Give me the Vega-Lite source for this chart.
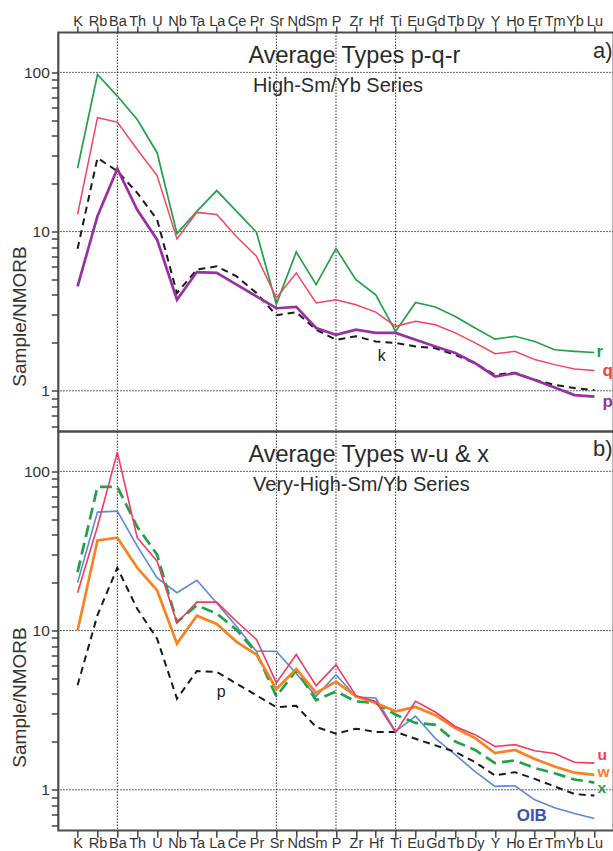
{
  "$schema": "https://vega.github.io/schema/vega-lite/v6.json",
  "background": "white",
  "padding": {"left": 8.3, "top": 12.5, "right": 0, "bottom": 0},
  "bounds": "flush",
  "spacing": 0,
  "config": {
    "view": {"stroke": "#4d4d4d", "strokeWidth": 2.2},
    "font": "Liberation Sans",
    "line": {"strokeJoin": "miter"}
  },
  "datasets": {
    "typesPQR": [
      {"s": "r", "el": "K", "v": 25}, {"s": "r", "el": "Rb", "v": 97}, {"s": "r", "el": "Ba", "v": 71}, {"s": "r", "el": "Th", "v": 50.6}, {"s": "r", "el": "U", "v": 31.3}, {"s": "r", "el": "Nb", "v": 9.7}, {"s": "r", "el": "Ta", "v": 13.4}, {"s": "r", "el": "La", "v": 18.1}, {"s": "r", "el": "Ce", "v": 13.4}, {"s": "r", "el": "Pr", "v": 9.9}, {"s": "r", "el": "Sr", "v": 3.5}, {"s": "r", "el": "Nd", "v": 7.45}, {"s": "r", "el": "Sm", "v": 4.64}, {"s": "r", "el": "P", "v": 7.82}, {"s": "r", "el": "Zr", "v": 4.99}, {"s": "r", "el": "Hf", "v": 4.0}, {"s": "r", "el": "Ti", "v": 2.36}, {"s": "r", "el": "Eu", "v": 3.59}, {"s": "r", "el": "Gd", "v": 3.36}, {"s": "r", "el": "Tb", "v": 2.93}, {"s": "r", "el": "Dy", "v": 2.48}, {"s": "r", "el": "Y", "v": 2.11}, {"s": "r", "el": "Ho", "v": 2.2}, {"s": "r", "el": "Er", "v": 2.04}, {"s": "r", "el": "Tm", "v": 1.81}, {"s": "r", "el": "Yb", "v": 1.77}, {"s": "r", "el": "Lu", "v": 1.74},
      {"s": "q", "el": "K", "v": 12.8}, {"s": "q", "el": "Rb", "v": 51.9}, {"s": "q", "el": "Ba", "v": 48.7}, {"s": "q", "el": "Th", "v": 32.8}, {"s": "q", "el": "U", "v": 22.5}, {"s": "q", "el": "Nb", "v": 9.0}, {"s": "q", "el": "Ta", "v": 13.2}, {"s": "q", "el": "La", "v": 12.8}, {"s": "q", "el": "Ce", "v": 9.27}, {"s": "q", "el": "Pr", "v": 7.0}, {"s": "q", "el": "Sr", "v": 3.83}, {"s": "q", "el": "Nd", "v": 5.5}, {"s": "q", "el": "Sm", "v": 3.56}, {"s": "q", "el": "P", "v": 3.73}, {"s": "q", "el": "Zr", "v": 3.47}, {"s": "q", "el": "Hf", "v": 3.12}, {"s": "q", "el": "Ti", "v": 2.54}, {"s": "q", "el": "Eu", "v": 2.73}, {"s": "q", "el": "Gd", "v": 2.6}, {"s": "q", "el": "Tb", "v": 2.31}, {"s": "q", "el": "Dy", "v": 2.0}, {"s": "q", "el": "Y", "v": 1.71}, {"s": "q", "el": "Ho", "v": 1.77}, {"s": "q", "el": "Er", "v": 1.57}, {"s": "q", "el": "Tm", "v": 1.46}, {"s": "q", "el": "Yb", "v": 1.37}, {"s": "q", "el": "Lu", "v": 1.34},
      {"s": "k", "el": "K", "v": 7.8}, {"s": "k", "el": "Rb", "v": 29}, {"s": "k", "el": "Ba", "v": 24}, {"s": "k", "el": "Th", "v": 17.5}, {"s": "k", "el": "U", "v": 11.9}, {"s": "k", "el": "Nb", "v": 4.11}, {"s": "k", "el": "Ta", "v": 5.77}, {"s": "k", "el": "La", "v": 6.05}, {"s": "k", "el": "Ce", "v": 5.23}, {"s": "k", "el": "Pr", "v": 4.11}, {"s": "k", "el": "Sr", "v": 2.98}, {"s": "k", "el": "Nd", "v": 3.12}, {"s": "k", "el": "Sm", "v": 2.42}, {"s": "k", "el": "P", "v": 2.09}, {"s": "k", "el": "Zr", "v": 2.2}, {"s": "k", "el": "Hf", "v": 2.04}, {"s": "k", "el": "Ti", "v": 2.0}, {"s": "k", "el": "Eu", "v": 1.9}, {"s": "k", "el": "Gd", "v": 1.85}, {"s": "k", "el": "Tb", "v": 1.68}, {"s": "k", "el": "Dy", "v": 1.49}, {"s": "k", "el": "Y", "v": 1.26}, {"s": "k", "el": "Ho", "v": 1.3}, {"s": "k", "el": "Er", "v": 1.17}, {"s": "k", "el": "Tm", "v": 1.09}, {"s": "k", "el": "Yb", "v": 1.04}, {"s": "k", "el": "Lu", "v": 1.01},
      {"s": "p", "el": "K", "v": 4.53}, {"s": "p", "el": "Rb", "v": 12.5}, {"s": "p", "el": "Ba", "v": 24.8}, {"s": "p", "el": "Th", "v": 13.7}, {"s": "p", "el": "U", "v": 8.9}, {"s": "p", "el": "Nb", "v": 3.73}, {"s": "p", "el": "Ta", "v": 5.57}, {"s": "p", "el": "La", "v": 5.5}, {"s": "p", "el": "Ce", "v": 4.64}, {"s": "p", "el": "Pr", "v": 3.92}, {"s": "p", "el": "Sr", "v": 3.3}, {"s": "p", "el": "Nd", "v": 3.37}, {"s": "p", "el": "Sm", "v": 2.48}, {"s": "p", "el": "P", "v": 2.25}, {"s": "p", "el": "Zr", "v": 2.42}, {"s": "p", "el": "Hf", "v": 2.31}, {"s": "p", "el": "Ti", "v": 2.31}, {"s": "p", "el": "Eu", "v": 2.09}, {"s": "p", "el": "Gd", "v": 1.9}, {"s": "p", "el": "Tb", "v": 1.73}, {"s": "p", "el": "Dy", "v": 1.49}, {"s": "p", "el": "Y", "v": 1.23}, {"s": "p", "el": "Ho", "v": 1.29}, {"s": "p", "el": "Er", "v": 1.17}, {"s": "p", "el": "Tm", "v": 1.05}, {"s": "p", "el": "Yb", "v": 0.94}, {"s": "p", "el": "Lu", "v": 0.92}
    ],
    "typesWUX": [
      {"s": "OIB", "el": "K", "v": 20}, {"s": "OIB", "el": "Rb", "v": 55.5}, {"s": "OIB", "el": "Ba", "v": 56.3}, {"s": "OIB", "el": "Th", "v": 33.9}, {"s": "OIB", "el": "U", "v": 21.4}, {"s": "OIB", "el": "Nb", "v": 17.3}, {"s": "OIB", "el": "Ta", "v": 20.7}, {"s": "OIB", "el": "La", "v": 14.9}, {"s": "OIB", "el": "Ce", "v": 10.6}, {"s": "OIB", "el": "Pr", "v": 7.41}, {"s": "OIB", "el": "Sr", "v": 7.41}, {"s": "OIB", "el": "Nd", "v": 5.37}, {"s": "OIB", "el": "Sm", "v": 3.86}, {"s": "OIB", "el": "P", "v": 5.29}, {"s": "OIB", "el": "Zr", "v": 3.83}, {"s": "OIB", "el": "Hf", "v": 3.77}, {"s": "OIB", "el": "Ti", "v": 2.33}, {"s": "OIB", "el": "Eu", "v": 2.9}, {"s": "OIB", "el": "Gd", "v": 2.1}, {"s": "OIB", "el": "Tb", "v": 1.66}, {"s": "OIB", "el": "Dy", "v": 1.3}, {"s": "OIB", "el": "Y", "v": 1.05}, {"s": "OIB", "el": "Ho", "v": 1.06}, {"s": "OIB", "el": "Er", "v": 0.865}, {"s": "OIB", "el": "Tm", "v": 0.77}, {"s": "OIB", "el": "Yb", "v": 0.71}, {"s": "OIB", "el": "Lu", "v": 0.66},
      {"s": "x", "el": "K", "v": 23.3}, {"s": "x", "el": "Rb", "v": 80}, {"s": "x", "el": "Ba", "v": 80}, {"s": "x", "el": "Th", "v": 44.9}, {"s": "x", "el": "U", "v": 30}, {"s": "x", "el": "Nb", "v": 11.3}, {"s": "x", "el": "Ta", "v": 14.4}, {"s": "x", "el": "La", "v": 12.8}, {"s": "x", "el": "Ce", "v": 10.1}, {"s": "x", "el": "Pr", "v": 7.24}, {"s": "x", "el": "Sr", "v": 3.86}, {"s": "x", "el": "Nd", "v": 5.63}, {"s": "x", "el": "Sm", "v": 3.65}, {"s": "x", "el": "P", "v": 4.15}, {"s": "x", "el": "Zr", "v": 3.59}, {"s": "x", "el": "Hf", "v": 3.51}, {"s": "x", "el": "Ti", "v": 2.96}, {"s": "x", "el": "Eu", "v": 2.63}, {"s": "x", "el": "Gd", "v": 2.56}, {"s": "x", "el": "Tb", "v": 2.01}, {"s": "x", "el": "Dy", "v": 1.78}, {"s": "x", "el": "Y", "v": 1.47}, {"s": "x", "el": "Ho", "v": 1.53}, {"s": "x", "el": "Er", "v": 1.37}, {"s": "x", "el": "Tm", "v": 1.27}, {"s": "x", "el": "Yb", "v": 1.16}, {"s": "x", "el": "Lu", "v": 1.11},
      {"s": "w", "el": "K", "v": 10.0}, {"s": "w", "el": "Rb", "v": 36.8}, {"s": "w", "el": "Ba", "v": 38.3}, {"s": "w", "el": "Th", "v": 24.8}, {"s": "w", "el": "U", "v": 17.9}, {"s": "w", "el": "Nb", "v": 8.28}, {"s": "w", "el": "Ta", "v": 12.4}, {"s": "w", "el": "La", "v": 11.0}, {"s": "w", "el": "Ce", "v": 8.5}, {"s": "w", "el": "Pr", "v": 7.07}, {"s": "w", "el": "Sr", "v": 4.3}, {"s": "w", "el": "Nd", "v": 5.74}, {"s": "w", "el": "Sm", "v": 4.06}, {"s": "w", "el": "P", "v": 4.78}, {"s": "w", "el": "Zr", "v": 3.86}, {"s": "w", "el": "Hf", "v": 3.51}, {"s": "w", "el": "Ti", "v": 3.11}, {"s": "w", "el": "Eu", "v": 3.31}, {"s": "w", "el": "Gd", "v": 2.94}, {"s": "w", "el": "Tb", "v": 2.44}, {"s": "w", "el": "Dy", "v": 2.11}, {"s": "w", "el": "Y", "v": 1.7}, {"s": "w", "el": "Ho", "v": 1.78}, {"s": "w", "el": "Er", "v": 1.56}, {"s": "w", "el": "Tm", "v": 1.4}, {"s": "w", "el": "Yb", "v": 1.28}, {"s": "w", "el": "Lu", "v": 1.24},
      {"s": "u", "el": "K", "v": 17.3}, {"s": "u", "el": "Rb", "v": 45}, {"s": "u", "el": "Ba", "v": 132}, {"s": "u", "el": "Th", "v": 38.3}, {"s": "u", "el": "U", "v": 27.3}, {"s": "u", "el": "Nb", "v": 11.2}, {"s": "u", "el": "Ta", "v": 15.1}, {"s": "u", "el": "La", "v": 15.1}, {"s": "u", "el": "Ce", "v": 11.4}, {"s": "u", "el": "Pr", "v": 8.8}, {"s": "u", "el": "Sr", "v": 4.69}, {"s": "u", "el": "Nd", "v": 7.07}, {"s": "u", "el": "Sm", "v": 4.51}, {"s": "u", "el": "P", "v": 6.09}, {"s": "u", "el": "Zr", "v": 3.9}, {"s": "u", "el": "Hf", "v": 3.59}, {"s": "u", "el": "Ti", "v": 2.29}, {"s": "u", "el": "Eu", "v": 3.59}, {"s": "u", "el": "Gd", "v": 3.08}, {"s": "u", "el": "Tb", "v": 2.5}, {"s": "u", "el": "Dy", "v": 2.22}, {"s": "u", "el": "Y", "v": 1.87}, {"s": "u", "el": "Ho", "v": 1.92}, {"s": "u", "el": "Er", "v": 1.76}, {"s": "u", "el": "Tm", "v": 1.69}, {"s": "u", "el": "Yb", "v": 1.49}, {"s": "u", "el": "Lu", "v": 1.47}
    ]
  },
  "vconcat": [
    {
      "width": 555.4,
      "height": 399,
      "layer": [
        {
          "data": {"values": [{"el": "Ba"}, {"el": "Sr"}, {"el": "P"}, {"el": "Ti"}]},
          "mark": {"type": "rule", "color": "#333", "strokeDash": [1.5, 1.5], "strokeWidth": 1},
          "encoding": {
            "x": {
              "field": "el", "type": "ordinal",
              "scale": {"type": "point", "padding": 0.97, "domain": ["K","Rb","Ba","Th","U","Nb","Ta","La","Ce","Pr","Sr","Nd","Sm","P","Zr","Hf","Ti","Eu","Gd","Tb","Dy","Y","Ho","Er","Tm","Yb","Lu"]},
              "axis": {"orient": "top", "title": null, "labelAngle": 0, "labelOverlap": false, "labelFont": "Liberation Sans", "labelFontSize": 14.5, "labelColor": "#333", "labelBaseline": "alphabetic", "labelPadding": 0, "tickSize": 6.6, "tickColor": "#444", "tickWidth": 1.5, "domain": false, "grid": false}
            }
          }
        },
        {
          "data": {"values": [{"v": 1}, {"v": 10}, {"v": 100}]},
          "mark": {"type": "rule", "color": "#333", "strokeDash": [1.5, 1.5], "strokeWidth": 1},
          "encoding": {
            "y": {
              "field": "v", "type": "quantitative",
              "scale": {"type": "log", "domain": [0.555, 178], "nice": false},
              "axis": {"values": [0.6,0.7,0.8,0.9,1,2,3,4,5,6,7,8,9,10,20,30,40,50,60,70,80,90,100], "labelExpr": "datum.value == 1 || datum.value == 10 || datum.value == 100 ? datum.value + '' : ''", "labelOverlap": false, "labelFontSize": 15.5, "labelColor": "#333", "labelPadding": 2, "tickColor": "#444", "tickWidth": 1.5, "tickSize": 7, "domain": false, "grid": false, "title": "Sample/NMORB", "titleFontSize": 19, "titleFontWeight": "normal", "titleColor": "#333", "titleAngle": 270, "titleBaseline": "alphabetic", "titleAlign": "center", "titleX": -33, "titleY": 283.5}
            }
          }
        },
        {
          "data": {"name": "typesPQR"},
          "encoding": {
            "x": {"field": "el", "type": "ordinal"},
            "y": {"field": "v", "type": "quantitative"}
          },
          "layer": [
            {"transform": [{"filter": "datum.s == 'r'"}], "mark": {"type": "line", "color": "#23a049", "strokeWidth": 1.7}},
            {"transform": [{"filter": "datum.s == 'q'"}], "mark": {"type": "line", "color": "#f2455e", "strokeWidth": 1.5}},
            {"transform": [{"filter": "datum.s == 'k'"}], "mark": {"type": "line", "color": "#1a1a1a", "strokeWidth": 2, "strokeDash": [7, 5]}},
            {"transform": [{"filter": "datum.s == 'p'"}], "mark": {"type": "line", "color": "#9830a3", "strokeWidth": 2.7}},
            {"transform": [{"filter": "datum.s == 'r' && datum.el == 'Lu'"}], "mark": {"type": "text", "text": "r", "align": "left", "baseline": "middle", "dx": 2, "fontSize": 17, "fontWeight": "bold", "color": "#1f9e45"}},
            {"transform": [{"filter": "datum.s == 'q' && datum.el == 'Lu'"}], "mark": {"type": "text", "text": "q", "align": "left", "baseline": "middle", "dx": 8, "fontSize": 17, "fontWeight": "bold", "color": "#f0403a"}},
            {"transform": [{"filter": "datum.s == 'p' && datum.el == 'Lu'"}], "mark": {"type": "text", "text": "p", "align": "left", "baseline": "middle", "dx": 8, "dy": 5, "fontSize": 17, "fontWeight": "bold", "color": "#9830a3"}},
            {"transform": [{"filter": "datum.s == 'k' && datum.el == 'Hf'"}], "mark": {"type": "text", "text": "k", "align": "center", "baseline": "middle", "dx": 6, "dy": 15, "fontSize": 16, "color": "#222"}}
          ]
        },
        {
          "data": {"values": [{}]},
          "mark": {"type": "text", "text": "Average Types p-q-r", "align": "left", "baseline": "alphabetic", "dx": 11.8, "fontSize": 23.5, "color": "#2b2b2b"},
          "encoding": {"x": {"datum": "Ce", "type": "ordinal"}, "y": {"datum": 115, "type": "quantitative"}}
        },
        {
          "data": {"values": [{}]},
          "mark": {"type": "text", "text": "High-Sm/Yb Series", "align": "left", "baseline": "alphabetic", "dx": -3.4, "fontSize": 20, "color": "#2b2b2b"},
          "encoding": {"x": {"datum": "Pr", "type": "ordinal"}, "y": {"datum": 75, "type": "quantitative"}}
        },
        {
          "data": {"values": [{}]},
          "mark": {"type": "text", "text": "a)", "align": "left", "baseline": "alphabetic", "dx": -1.5, "fontSize": 22, "color": "#2b2b2b"},
          "encoding": {"x": {"datum": "Lu", "type": "ordinal"}, "y": {"datum": 124, "type": "quantitative"}}
        }
      ]
    },
    {
      "width": 555.4,
      "height": 399,
      "layer": [
        {
          "data": {"values": [{"el": "Ba"}, {"el": "Sr"}, {"el": "P"}, {"el": "Ti"}]},
          "mark": {"type": "rule", "color": "#333", "strokeDash": [1.5, 1.5], "strokeWidth": 1},
          "encoding": {
            "x": {
              "field": "el", "type": "ordinal",
              "scale": {"type": "point", "padding": 0.97, "domain": ["K","Rb","Ba","Th","U","Nb","Ta","La","Ce","Pr","Sr","Nd","Sm","P","Zr","Hf","Ti","Eu","Gd","Tb","Dy","Y","Ho","Er","Tm","Yb","Lu"]},
              "axis": {"orient": "bottom", "title": null, "labelAngle": 0, "labelOverlap": false, "labelFont": "Liberation Sans", "labelFontSize": 14.5, "labelColor": "#333", "labelBaseline": "top", "labelPadding": -1, "tickSize": 6.7, "tickColor": "#444", "tickWidth": 1.5, "domain": false, "grid": false}
            }
          }
        },
        {
          "data": {"values": [{"v": 1}, {"v": 10}, {"v": 100}]},
          "mark": {"type": "rule", "color": "#333", "strokeDash": [1.5, 1.5], "strokeWidth": 1},
          "encoding": {
            "y": {
              "field": "v", "type": "quantitative",
              "scale": {"type": "log", "domain": [0.555, 178], "nice": false},
              "axis": {"values": [0.6,0.7,0.8,0.9,1,2,3,4,5,6,7,8,9,10,20,30,40,50,60,70,80,90,100], "labelExpr": "datum.value == 1 || datum.value == 10 || datum.value == 100 ? datum.value + '' : ''", "labelOverlap": false, "labelFontSize": 15.5, "labelColor": "#333", "labelPadding": 2, "tickColor": "#444", "tickWidth": 1.5, "tickSize": 7, "domain": false, "grid": false, "title": "Sample/NMORB", "titleFontSize": 19, "titleFontWeight": "normal", "titleColor": "#333", "titleAngle": 270, "titleBaseline": "alphabetic", "titleAlign": "center", "titleX": -33, "titleY": 265.5}
            }
          }
        },
        {
          "data": {"name": "typesWUX"},
          "encoding": {
            "x": {"field": "el", "type": "ordinal"},
            "y": {"field": "v", "type": "quantitative"}
          },
          "layer": [
            {"transform": [{"filter": "datum.s == 'OIB'"}], "mark": {"type": "line", "color": "#5b89d6", "strokeWidth": 1.6}},
            {"data": {"name": "typesPQR"}, "transform": [{"filter": "datum.s == 'p'"}], "mark": {"type": "line", "color": "#1a1a1a", "strokeWidth": 2, "strokeDash": [7, 5]}},
            {"transform": [{"filter": "datum.s == 'x'"}], "mark": {"type": "line", "color": "#1fa24a", "strokeWidth": 2.7, "strokeDash": [12, 6]}},
            {"transform": [{"filter": "datum.s == 'w'"}], "mark": {"type": "line", "color": "#f7821f", "strokeWidth": 2.7}},
            {"transform": [{"filter": "datum.s == 'u'"}], "mark": {"type": "line", "color": "#ef3b5e", "strokeWidth": 1.6}},
            {"transform": [{"filter": "datum.s == 'u' && datum.el == 'Lu'"}], "mark": {"type": "text", "text": "u", "align": "left", "baseline": "middle", "dx": 3, "dy": -8, "fontSize": 15.5, "fontWeight": "bold", "color": "#ef3b5e"}},
            {"transform": [{"filter": "datum.s == 'w' && datum.el == 'Lu'"}], "mark": {"type": "text", "text": "w", "align": "left", "baseline": "middle", "dx": 3, "dy": -3, "fontSize": 15.5, "fontWeight": "bold", "color": "#f7821f"}},
            {"transform": [{"filter": "datum.s == 'x' && datum.el == 'Lu'"}], "mark": {"type": "text", "text": "x", "align": "left", "baseline": "middle", "dx": 3, "dy": 5.5, "fontSize": 15.5, "fontWeight": "bold", "color": "#1fa24a"}},
            {"transform": [{"filter": "datum.s == 'OIB' && datum.el == 'Er'"}], "mark": {"type": "text", "text": "OIB", "align": "center", "baseline": "middle", "dx": -3, "dy": 16, "fontSize": 17, "fontWeight": "bold", "color": "#3d50b0"}},
            {"data": {"name": "typesPQR"}, "transform": [{"filter": "datum.s == 'p' && datum.el == 'La'"}], "mark": {"type": "text", "text": "p", "align": "center", "baseline": "middle", "dx": 4.5, "dy": 20, "fontSize": 16, "color": "#222"}}
          ]
        },
        {
          "data": {"values": [{}]},
          "mark": {"type": "text", "text": "Average Types w-u & x", "align": "left", "baseline": "alphabetic", "dx": 11.8, "fontSize": 23.5, "color": "#2b2b2b"},
          "encoding": {"x": {"datum": "Ce", "type": "ordinal"}, "y": {"datum": 115, "type": "quantitative"}}
        },
        {
          "data": {"values": [{}]},
          "mark": {"type": "text", "text": "Very-High-Sm/Yb Series", "align": "left", "baseline": "alphabetic", "dx": -3.4, "fontSize": 20, "color": "#2b2b2b"},
          "encoding": {"x": {"datum": "Pr", "type": "ordinal"}, "y": {"datum": 75, "type": "quantitative"}}
        },
        {
          "data": {"values": [{}]},
          "mark": {"type": "text", "text": "b)", "align": "left", "baseline": "alphabetic", "dx": -1.5, "fontSize": 22, "color": "#2b2b2b"},
          "encoding": {"x": {"datum": "Lu", "type": "ordinal"}, "y": {"datum": 124, "type": "quantitative"}}
        }
      ]
    }
  ]
}
